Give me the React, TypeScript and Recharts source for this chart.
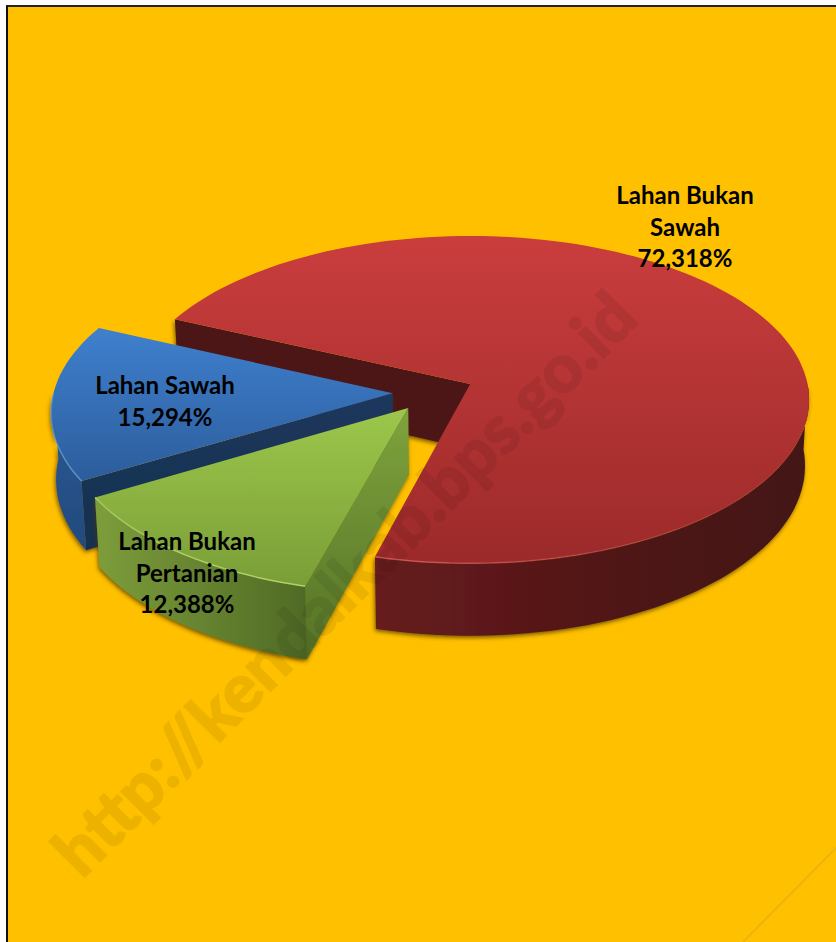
import React from "react";
import { PieChart, Pie } from "recharts";

const W = 836;
const H = 942;

// Data
const categories = ["Lahan Bukan Sawah", "Lahan Sawah", "Lahan Bukan Pertanian"];
const shares = [72.318, 15.294, 12.388];
const labelLines = [["Lahan Bukan", "Sawah"], ["Lahan Sawah"], ["Lahan Bukan", "Pertanian"]];
const watermark = "http://kendalkab.bps.go.id";
const rows = categories.map((name, i) => ({ name, value: shares[i], lines: labelLines[i] }));

// Layout / style only
const LABEL_CENTRES = [
  [685, 204],
  [165, 394],
  [187, 550],
];
const FACE_IDS = ["red", "blue", "green"];
const SQUASH = 0.4807;
const PERSPECTIVE = 0.096;
const EXPLODE = 0.12;
const ORIGIN_U = -0.108;
const ORIGIN_V = 0.051;
const DEPTH = 65.5;
const BASE_SHRINK = 0.988;

type P = [number, number];

function SliceShape(props: any) {
  const { cx, cy, outerRadius, startAngle, endAngle, midAngle, index } = props;
  const rad = (d: number) => (d * Math.PI) / 180;
  const mid = midAngle ?? (startAngle + endAngle) / 2;
  const ou = EXPLODE * Math.cos(rad(mid));
  const ov = -EXPLODE * Math.sin(rad(mid));
  const project = (u: number, v: number): P => {
    const uu = u + ou + ORIGIN_U;
    const vv = v + ov + ORIGIN_V;
    const w = 1 - PERSPECTIVE * vv;
    return [cx + (outerRadius * uu) / w, cy + (outerRadius * SQUASH * vv) / w];
  };
  const depthOf = (v: number) => DEPTH / (1 - PERSPECTIVE * (v + ov + ORIGIN_V));
  const rim = (t: number): P => project(Math.cos(rad(t)), -Math.sin(rad(t)));
  const lower = (u: number, v: number): P => {
    const [x, y] = project(u, v);
    return [cx + (x - cx) * BASE_SHRINK, y + depthOf(v)];
  };
  const rimLow = (t: number): P => lower(Math.cos(rad(t)), -Math.sin(rad(t)));
  const sweep = (a: number, b: number) => {
    const out: number[] = [];
    const n = Math.max(2, Math.ceil(Math.abs(b - a) / 2));
    for (let i = 0; i <= n; i++) out.push(a + ((b - a) * i) / n);
    return out;
  };
  const path = (pts: P[]) => "M" + pts.map((p) => p[0].toFixed(1) + " " + p[1].toFixed(1)).join("L") + "Z";
  const open = (pts: P[]) => "M" + pts.map((p) => p[0].toFixed(1) + " " + p[1].toFixed(1)).join("L");

  const apex = project(0, 0);
  const apexLow = lower(0, 0);
  const top = path([apex, ...sweep(startAngle, endAngle).map(rim)]);
  const wall = path([apex, rim(endAngle), rimLow(endAngle), apexLow]);

  const sides: string[] = [];
  const rims: string[] = [];
  [[-180, 0], [180, 360]].forEach(([lo, hi]) => {
    const a = Math.max(lo, startAngle);
    const b = Math.min(hi, endAngle);
    if (b > a) {
      const ts = sweep(a, b);
      sides.push(path([...ts.map(rim), ...ts.slice().reverse().map(rimLow)]));
      rims.push(open(ts.map(rim)));
    }
  });
  const id = FACE_IDS[index];
  return (
    <g>
      <g filter="url(#softShadow)">
        <path d={wall} fill={`url(#${id}Wall)`} />
        {sides.map((d, i) => (
          <path key={i} d={d} fill={`url(#${id}Side)`} />
        ))}
      </g>
      <path d={top} fill={`url(#${id}Top)`} />
      {rims.map((d, i) => (
        <path key={i} d={d} fill="none" stroke={`url(#${id}Rim)`} strokeWidth={1.5} />
      ))}
    </g>
  );
}

function SliceLabel(props: any) {
  const { index, value } = props;
  const [x, y] = LABEL_CENTRES[index];
  const lines = [...rows[index].lines, value.toFixed(3).replace(".", ",") + "%"];
  return (
    <text x={x} y={y} textAnchor="middle" fontFamily="Lato, sans-serif" fontWeight={700} fontSize={24} fill="#000">
      {lines.map((l, i) => (
        <tspan key={i} x={x} dy={i === 0 ? 0 : 31.5}>
          {l}
        </tspan>
      ))}
    </text>
  );
}

const grad = (id: string, stops: string[], horizontal = false) => (
  <linearGradient id={id} x1="0" y1="0" x2={horizontal ? "1" : "0"} y2={horizontal ? "0" : "1"}>
    {stops.map((c, i) => (
      <stop key={i} offset={i / (stops.length - 1)} stopColor={c} />
    ))}
  </linearGradient>
);

const fadeRim = (id: string, colour: string, from: number, to: number) => (
  <linearGradient id={id} x1="0" y1="0" x2="1" y2="0">
    <stop offset={0} stopColor={colour} stopOpacity={from} />
    <stop offset={1} stopColor={colour} stopOpacity={to} />
  </linearGradient>
);

export default function App() {
  return (
    <div style={{ position: "absolute", left: 0, top: 0, width: W, height: H, background: "#fff", overflow: "hidden" }}>
      <div
        style={{
          position: "absolute",
          left: 6,
          top: 5,
          width: W,
          height: H,
          background: "#FFC000",
          borderLeft: "2px solid #111",
          borderTop: "2px solid #222",
        }}
      />
      <div style={{ position: "absolute", left: 0, top: 0 }}>
        <PieChart width={W} height={H} margin={{ top: 0, right: 0, bottom: 0, left: 0 }}>
          <defs>
            {grad("redTop", ["#CA3D3D", "#9C2A2A"])}
            {grad("redSide", ["#671C1D", "#521617", "#431213"], true)}
            {grad("redWall", ["#4E1515", "#4E1515"])}
            {grad("blueTop", ["#3F80CE", "#2C5D9C"])}
            {grad("blueSide", ["#2A5A98", "#234A7C"])}
            {grad("blueWall", ["#1B375C", "#17314F"])}
            {grad("greenTop", ["#9CC74B", "#7A9E37"])}
            {grad("greenSide", ["#7D9D3B", "#4F6A25"], true)}
            {grad("greenWall", ["#7FA33C", "#557227"])}
            {fadeRim("redRim", "#D25A5A", 0.9, 0)}
            {fadeRim("blueRim", "#6BA3E0", 0.6, 0.7)}
            {fadeRim("greenRim", "#B9D86E", 0.7, 0.9)}
            <filter id="softShadow" x="-10%" y="-10%" width="120%" height="120%">
              <feDropShadow dx={-1} dy={2} stdDeviation={2} floodColor="#4a3000" floodOpacity={0.75} />
            </filter>
          </defs>
          <Pie
            data={rows}
            dataKey="value"
            nameKey="name"
            cx={470}
            cy={384}
            innerRadius={0}
            outerRadius={337.4}
            startAngle={-104.85}
            endAngle={255.15}
            stroke="none"
            isAnimationActive={false}
            shape={SliceShape}
            labelLine={false}
            label={SliceLabel}
          />
        </PieChart>
      </div>
      <svg width={W} height={H} style={{ position: "absolute", left: 0, top: 0, pointerEvents: "none" }}>
        <line x1={836} y1={848} x2={743} y2={942} stroke="#EDB412" strokeWidth={2} />
        <g opacity={0.065}>
          <text
            x={82}
            y={880}
            transform="rotate(-45 82 880)"
            fontFamily="Lato, sans-serif"
            fontWeight={900}
            fontSize={68}
            fill="#000"
            stroke="#000"
            strokeWidth={1.5}
            textLength={790}
            lengthAdjust="spacingAndGlyphs"
          >
            {watermark}
          </text>
        </g>
      </svg>
    </div>
  );
}
